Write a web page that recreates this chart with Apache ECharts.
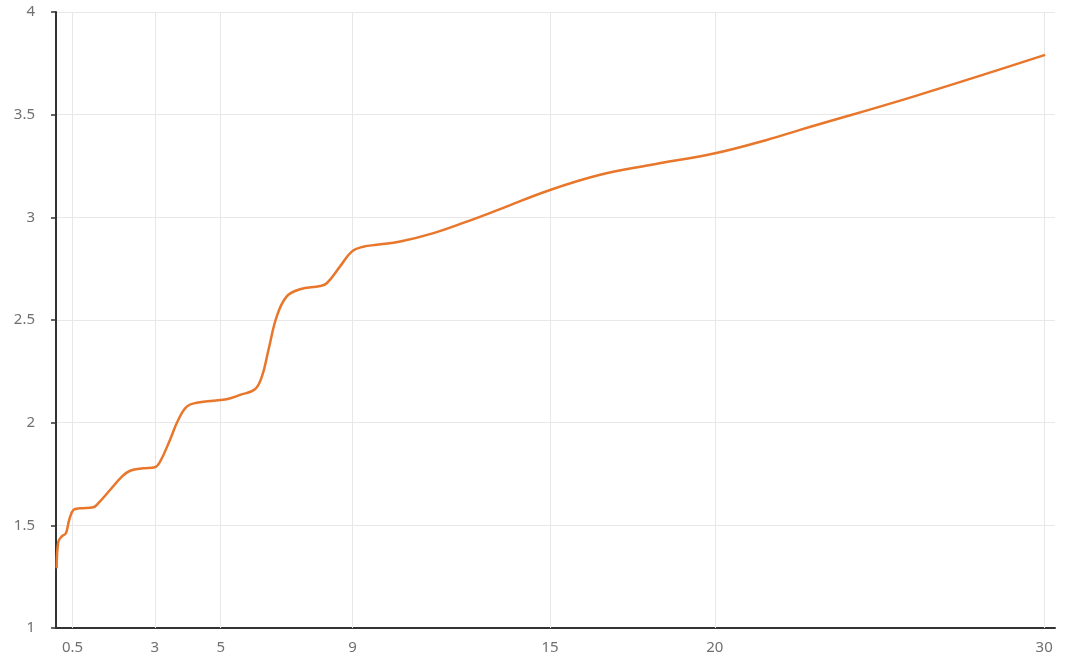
<!DOCTYPE html>
<html>
<head>
<meta charset="utf-8">
<script src="https://cdn.jsdelivr.net/npm/echarts@6/dist/echarts.min.js"></script>
<style>html,body{margin:0;padding:0;background:#fff}#c{width:1080px;height:668px}</style>
</head>
<body>
<div id="c"></div>
<script>
const xTicks = [0.5, 3, 5, 9, 15, 20, 30];
const xValues = [0.02, 0.07, 0.17, 0.30, 0.40, 0.53, 0.73, 1.13, 1.28, 1.64, 2.0, 2.25, 2.65, 3.0, 3.16, 3.46, 3.71, 3.97, 4.27, 4.78, 5.18, 5.59, 6.04, 6.25, 6.45, 6.70, 7.0, 7.41, 8.02, 8.22, 8.62, 8.98, 9.33, 9.74, 10.45, 11.46, 12.47, 13.48, 15.0, 16.52, 18.04, 20.01, 21.58, 22.59, 26.03, 30.03];
const yValues = [1.291, 1.420, 1.445, 1.461, 1.526, 1.575, 1.583, 1.588, 1.607, 1.672, 1.737, 1.766, 1.778, 1.783, 1.81, 1.916, 2.013, 2.078, 2.097, 2.107, 2.114, 2.135, 2.163, 2.224, 2.354, 2.516, 2.614, 2.65, 2.666, 2.679, 2.76, 2.833, 2.857, 2.866, 2.882, 2.923, 2.979, 3.04, 3.133, 3.207, 3.255, 3.312, 3.377, 3.426, 3.588, 3.791];

const chart = echarts.init(document.getElementById('c'));
const labelStyle = { color: '#707070', fontSize: 15, fontFamily: 'Noto Sans' };
chart.setOption({
  animation: false,
  backgroundColor: '#fff',
  grid: { left: 56, right: 25, top: 12, bottom: 40, containLabel: false },
  xAxis: {
    type: 'value', min: 0, max: 30.33,
    axisLine: { show: true, lineStyle: { color: '#333', width: 2 } },
    axisTick: { show: false, customValues: xTicks },
    axisLabel: Object.assign({ customValues: xTicks, margin: 12 }, labelStyle),
    splitLine: { show: false }
  },
  yAxis: {
    type: 'value', min: 1, max: 4, interval: 0.5,
    axisLine: { show: true, lineStyle: { color: '#333', width: 2 } },
    axisTick: { show: true, length: 5, lineStyle: { color: '#333', width: 1.5 } },
    axisLabel: Object.assign({ margin: 21 }, labelStyle),
    splitLine: { show: true, lineStyle: { color: '#e8e8e8', width: 1 } }
  },
  series: [{
    type: 'line',
    data: xValues.map((x, i) => [x, yValues[i]]),
    smooth: 0.4,
    showSymbol: false,
    lineStyle: { color: '#e8762b', width: 2.5 },
    itemStyle: { color: '#e8762b' },
    z: 5,
    markLine: {
      silent: true,
      symbol: 'none',
      label: { show: false },
      lineStyle: { color: '#e8e8e8', width: 1, type: 'solid' },
      data: xTicks.map(v => ({ xAxis: v })),
      z: 1
    }
  }]
});
</script>
</body>
</html>
